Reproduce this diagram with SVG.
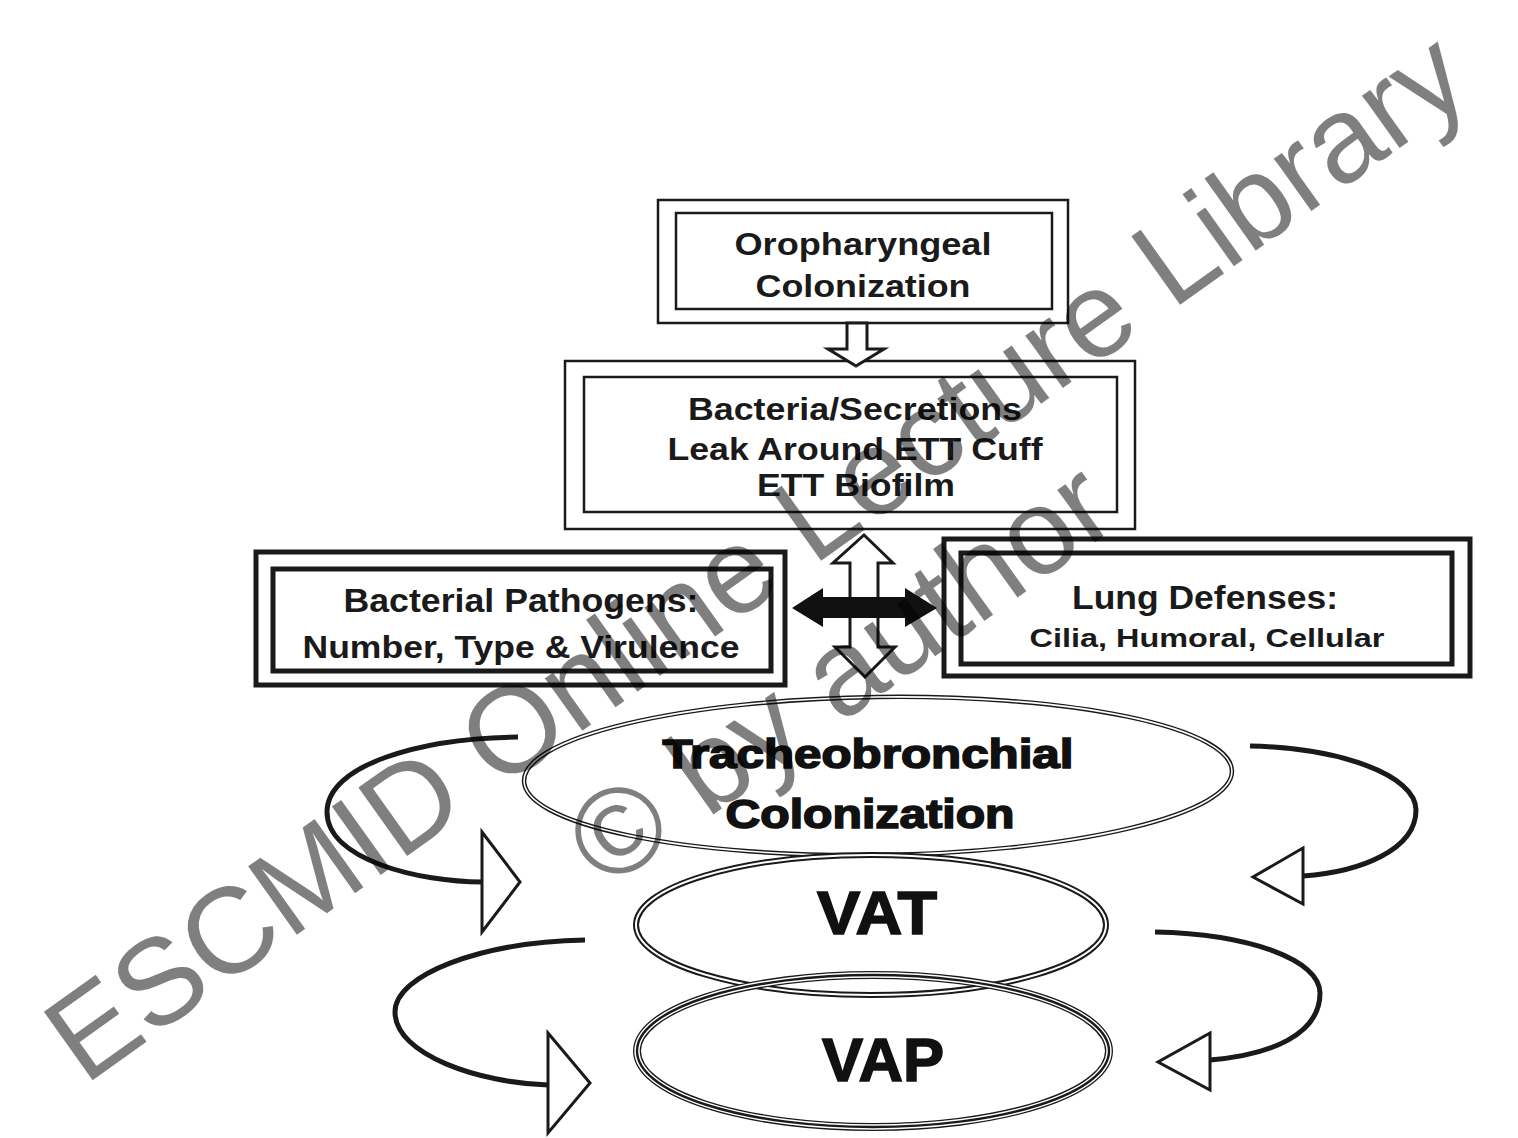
<svg xmlns="http://www.w3.org/2000/svg" width="1518" height="1138" viewBox="0 0 1518 1138">
<defs>
<style>
.bx{fill:none;stroke:#1a1a1a;stroke-width:2.5}
.bxt{fill:none;stroke:#1a1a1a;stroke-width:5}
.t{font-family:"Liberation Sans",Arial,sans-serif;font-weight:bold;fill:#1a1a1a;text-anchor:middle}
.h{font-family:"Liberation Sans",Arial,sans-serif;font-weight:bold;fill:#111;stroke:#111;stroke-width:1.6;text-anchor:middle}
.loop{fill:none;stroke:#1a1a1a;stroke-width:5;stroke-linecap:butt}
.head{fill:#fff;stroke:#1a1a1a;stroke-width:3;stroke-linejoin:miter}
.wm{font-family:"Liberation Sans",Arial,sans-serif;font-size:122px;fill:#000;fill-opacity:0.5;text-anchor:middle}
</style>
</defs>
<rect width="1518" height="1138" fill="#fff"/>

<g id="node-oropharyngeal">
<rect class="bx" x="658" y="200" width="410" height="123"/>
<rect class="bx" x="676" y="213" width="376" height="96"/>
<text class="t" x="863" y="255" font-size="32" textLength="257" lengthAdjust="spacingAndGlyphs">Oropharyngeal</text>
<text class="t" x="863" y="297" font-size="32" textLength="215" lengthAdjust="spacingAndGlyphs">Colonization</text>
</g>

<g id="node-bacteria-secretions">
<rect class="bx" x="565" y="361" width="570" height="168"/>
<rect class="bx" x="584" y="377" width="533" height="135"/>
<text class="t" x="855" y="420" font-size="32" textLength="334" lengthAdjust="spacingAndGlyphs">Bacteria/Secretions</text>
<text class="t" x="855" y="460" font-size="32" textLength="375" lengthAdjust="spacingAndGlyphs">Leak Around ETT Cuff</text>
<text class="t" x="856" y="496" font-size="32" textLength="198" lengthAdjust="spacingAndGlyphs">ETT Biofilm</text>
</g>

<g id="node-bacterial-pathogens">
<rect class="bxt" x="256" y="552" width="529" height="133"/>
<rect class="bxt" x="273" y="569" width="498" height="102"/>
<text class="t" x="521" y="612" font-size="33" textLength="355" lengthAdjust="spacingAndGlyphs">Bacterial Pathogens:</text>
<text class="t" x="521" y="658" font-size="32" textLength="437" lengthAdjust="spacingAndGlyphs">Number, Type &amp; Virulence</text>
</g>

<g id="node-lung-defenses">
<rect class="bxt" x="944" y="539" width="526" height="137"/>
<rect class="bxt" x="961" y="553" width="491" height="111"/>
<text class="t" x="1205" y="609" font-size="33" textLength="266" lengthAdjust="spacingAndGlyphs">Lung Defenses:</text>
<text class="t" x="1207" y="647" font-size="26" textLength="355" lengthAdjust="spacingAndGlyphs">Cilia, Humoral, Cellular</text>
</g>

<g id="node-tracheobronchial">
<ellipse cx="878" cy="776" rx="354" ry="79" fill="none" stroke="#1a1a1a" stroke-width="4.5" transform="rotate(-0.8 878 776)"/>
<ellipse cx="878" cy="776" rx="354" ry="79" fill="none" stroke="#fff" stroke-width="1.6" transform="rotate(-0.8 878 776)"/>
<text class="h" x="868" y="768" font-size="40" textLength="411" lengthAdjust="spacingAndGlyphs">Tracheobronchial</text>
<text class="h" x="870" y="828" font-size="40" textLength="289" lengthAdjust="spacingAndGlyphs">Colonization</text>
</g>

<g id="node-vat">
<ellipse cx="871" cy="925" rx="235" ry="70" fill="none" stroke="#1a1a1a" stroke-width="6"/>
<ellipse cx="871" cy="925" rx="235" ry="70" fill="none" stroke="#fff" stroke-width="2"/>
<text class="h" x="877" y="934" font-size="62" textLength="120" lengthAdjust="spacingAndGlyphs">VAT</text>
</g>

<g id="node-vap">
<ellipse cx="873" cy="1051" rx="236" ry="76" fill="none" stroke="#1a1a1a" stroke-width="8"/>
<ellipse cx="873" cy="1051" rx="236" ry="76" fill="none" stroke="#fff" stroke-width="5.4"/>
<ellipse cx="873" cy="1051" rx="236" ry="76" fill="none" stroke="#1a1a1a" stroke-width="2.4"/>
<text class="h" x="883" y="1081" font-size="62" textLength="122" lengthAdjust="spacingAndGlyphs">VAP</text>
</g>

<g id="connectors">
<polygon class="head" stroke-width="2.5" points="847,323 867,323 867,349 884,349 856,366 828,349 847,349"/>
<polygon class="head" stroke-width="3" points="864,535 893,563 878,563 878,647 895,647 865,677 835,647 850,647 850,563 833,563"/>
<polygon fill="#111" points="792,608 823,588 823,597 905,597 905,588 937,608 905,627 905,618 823,618 823,627"/>

<path class="loop" d="M518,737 C420,738 327,765 327,812 C327,860 420,882 482,882"/>
<polygon class="head" points="482,832 520,882 482,932"/>

<path class="loop" d="M585,940 C480,942 395,975 395,1012 C395,1055 480,1083 548,1085"/>
<polygon class="head" points="548,1033 590,1083 548,1133"/>

<path class="loop" d="M1250,746 C1340,748 1416,775 1416,810 C1416,850 1360,872 1303,876"/>
<polygon class="head" points="1303,848 1253,877 1303,904"/>

<path class="loop" d="M1155,932 C1250,934 1320,960 1320,993 C1320,1035 1270,1055 1210,1060"/>
<polygon class="head" points="1210,1033 1158,1062 1210,1090"/>
</g>

<g id="watermark" transform="translate(780,590) rotate(-35.5)">
<text class="wm" x="0" y="0">ESCMID Online Lecture Library</text>
<text class="wm" x="0" y="144">© by author</text>
</g>
</svg>
